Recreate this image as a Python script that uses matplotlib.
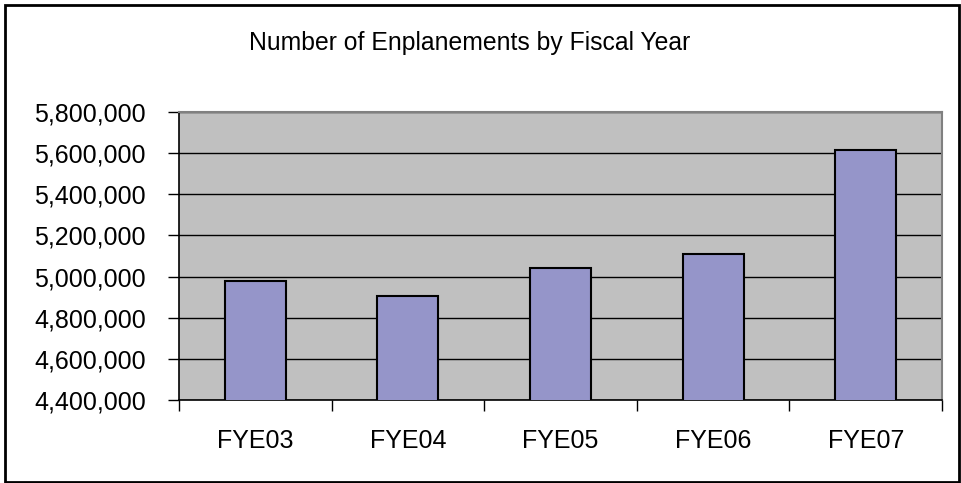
import matplotlib
matplotlib.use("Agg")
import matplotlib.pyplot as plt
from matplotlib.ticker import FuncFormatter, MultipleLocator
from matplotlib.patches import Rectangle

categories = ["FYE03", "FYE04", "FYE05", "FYE06", "FYE07"]
enplanements = [4978000, 4906000, 5041000, 5110000, 5616000]
title = "Number of Enplanements by Fiscal Year"

plt.rcParams['font.family'] = ['Liberation Sans', 'DejaVu Sans']

W, H = 961, 483
fig = plt.figure(figsize=(W / 100, H / 100), dpi=100)
ax = fig.add_axes([179 / W, 1 - 400 / H, (942 - 179) / W, (400 - 112) / H])

ax.set_facecolor("#C0C0C0")
x = list(range(len(categories)))
ax.bar(x, enplanements, width=0.4, color="#9595C9", edgecolor="black",
       linewidth=1.5, zorder=3)

ax.set_ylim(4400000, 5800000)
ax.set_xlim(-0.5, len(categories) - 0.5)
ax.yaxis.set_major_locator(MultipleLocator(200000))
ax.yaxis.set_major_formatter(FuncFormatter(lambda v, p: f"{int(round(v)):,}"))
ax.grid(axis="y", color="black", linewidth=1, zorder=1)

ax.set_xticks([i - 0.5 for i in range(len(categories) + 1)])
ax.set_xticklabels([])
ax.set_xticks(x, minor=True)
ax.set_xticklabels(categories, minor=True)
ax.tick_params(axis="x", which="minor", length=0, pad=21, labelsize=18)
ax.tick_params(axis="x", which="major", length=8, width=1, direction="out")
ax.tick_params(axis="y", length=8, width=1, direction="out", labelsize=18, pad=16)

for s in ["top", "right"]:
    ax.spines[s].set_color("#808080")
    ax.spines[s].set_linewidth(1.5)
for s in ["left", "bottom"]:
    ax.spines[s].set_color("black")
    ax.spines[s].set_linewidth(1.2)

fig.text(470 / W, 1 - 43 / H, title, ha="center", va="center", fontsize=17.8)

fig.patches.append(Rectangle((4.5 / W, 1.5 / H), (958.5 - 4.5) / W, (478.5 - 1.5) / H,
                             transform=fig.transFigure, fill=False,
                             edgecolor="black", linewidth=2))

fig.savefig("out.png", dpi=100)
